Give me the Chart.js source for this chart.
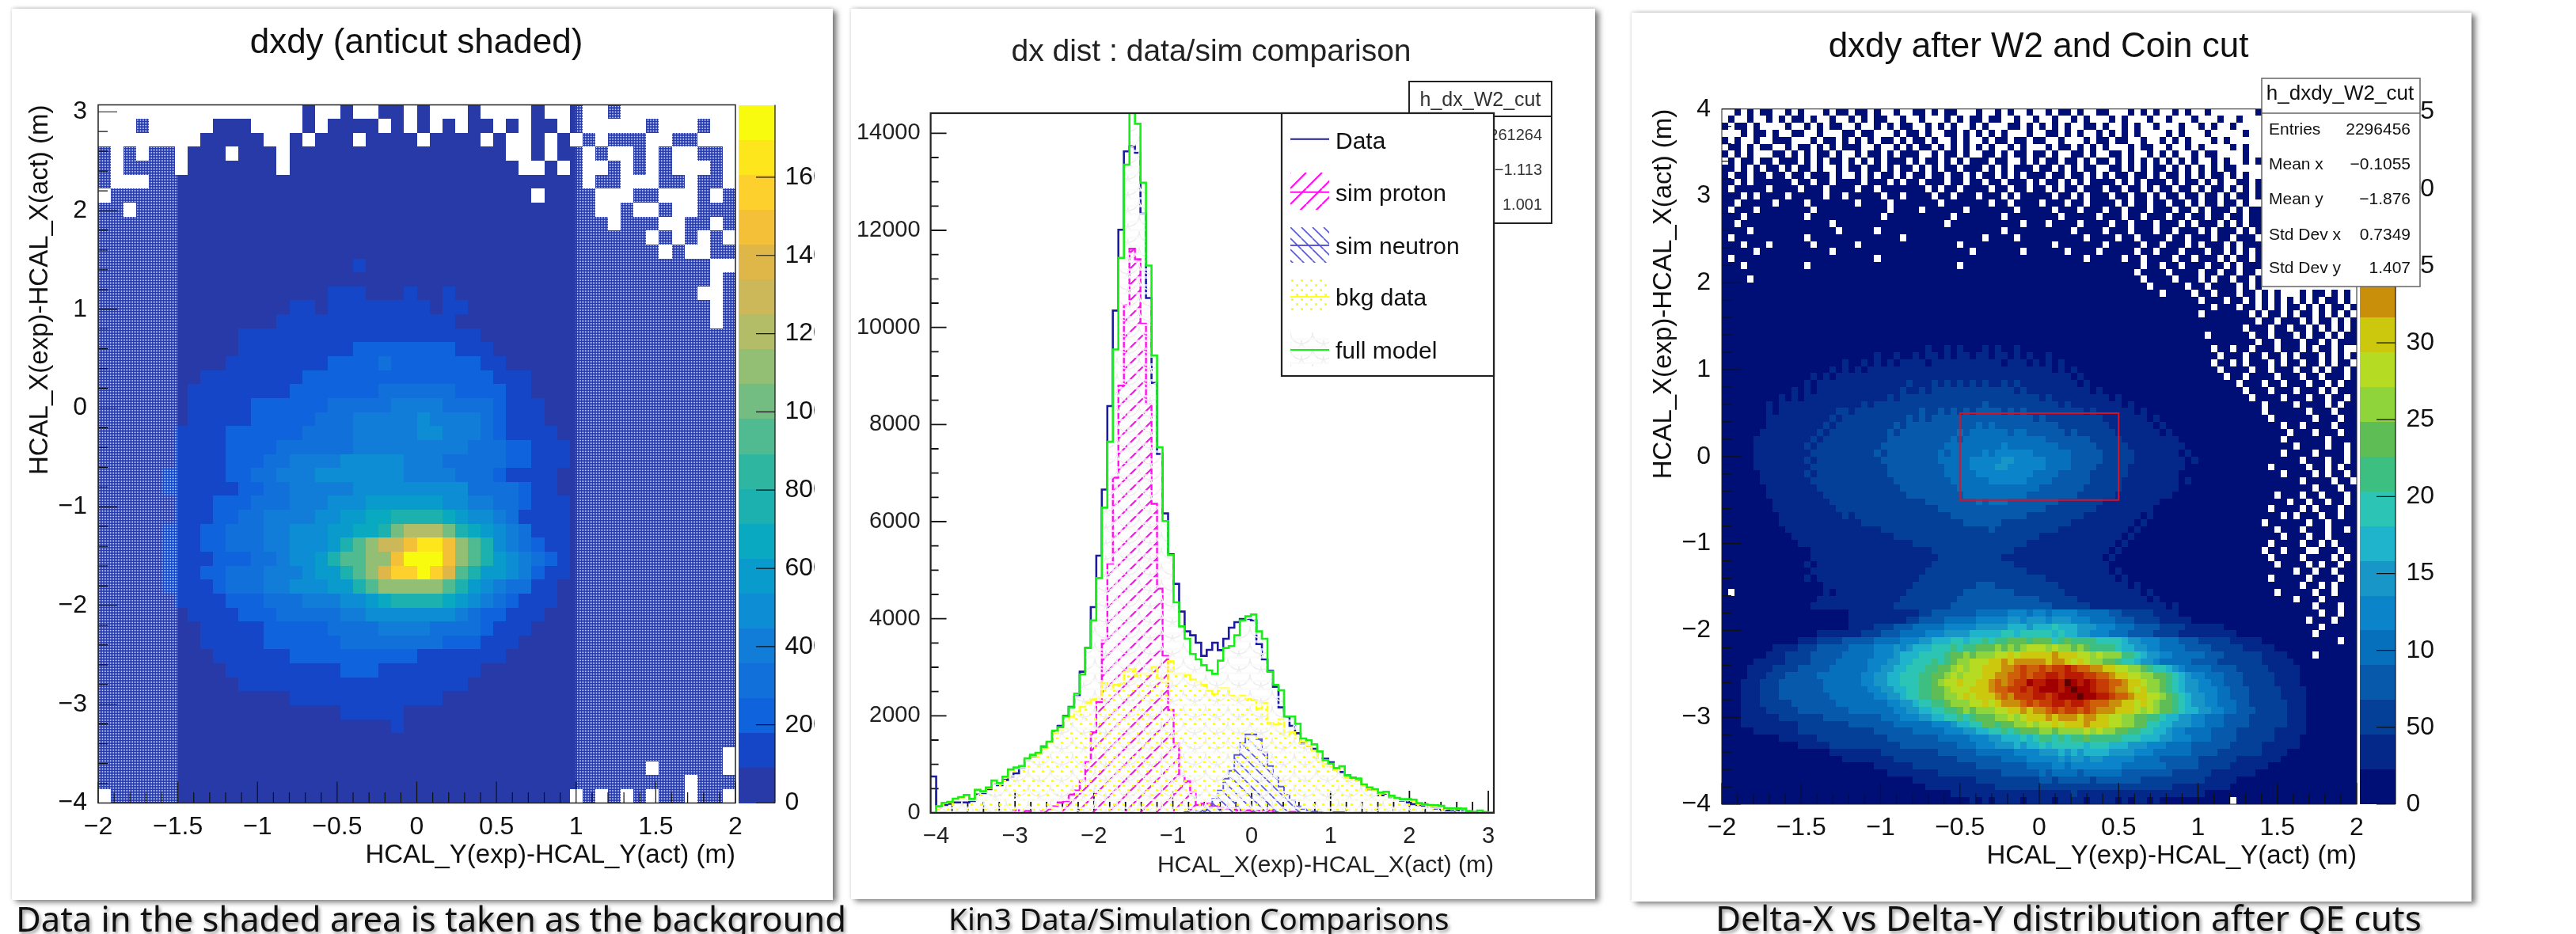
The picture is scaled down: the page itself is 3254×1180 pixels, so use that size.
<!DOCTYPE html>
<html>
<head>
<meta charset="utf-8">
<title>dxdy and dx comparisons</title>
<script src="https://cdn.jsdelivr.net/npm/chart.js@4/dist/chart.umd.min.js"></script>
<style>
  html, body { margin: 0; padding: 0; background: #fff; width: 3254px; height: 1180px; overflow: hidden; }
  .panel { position: absolute; background: #fff; box-shadow: 5px 3px 7px rgba(0,0,0,.5), 0 -1px 4px rgba(0,0,0,.15); }
  canvas { position: absolute; }
  .caption { position: absolute; white-space: nowrap; font-family: "Noto Sans", sans-serif; color: #111; text-shadow: 2px 3px 4px rgba(0,0,0,.4); }
</style>
</head>
<body>
<div class="panel" style="left:15px;top:11px;width:1037px;height:1126px"></div>
<div class="panel" style="left:1075px;top:11px;width:940px;height:1125px"></div>
<div class="panel" style="left:2061px;top:16px;width:1061px;height:1123px"></div>
<canvas id="c1" width="1006" height="1120" style="left:23px;top:12px;filter:blur(.6px)"></canvas>
<canvas id="c2" width="910" height="1122" style="left:1075px;top:12px;filter:blur(.7px)"></canvas>
<canvas id="c3" width="1002" height="1120" style="left:2074px;top:16px;filter:blur(.3px)"></canvas>
<div class="caption" style="left:20px;top:1130px;font-size:43.5px">Data in the shaded area is taken as the background</div>
<div class="caption" style="left:1198px;top:1134px;font-size:38.6px">Kin3 Data/Simulation Comparisons</div>
<div class="caption" style="left:2167px;top:1129px;font-size:44px">Delta-X vs Delta-Y distribution after QE cuts</div>
<script>
// ---- dx histogram, bins of 0.07 starting at -4.07
const dxBinStart = -4.07;
const dxBinWidth = 0.07;
const dataHist = [750,109,163,190,217,217,217,245,380,408,489,598,570,679,750,815,924,1087,1168,1223,1370,1440,1658,1793,1995,2185,2402,2908,3397,4239,5299,6660,8380,10347,12011,13626,13730,13600,12340,10607,8856,7393,6169,5326,4718,4147,3739,3658,3506,3234,3359,3506,3353,3587,3815,3930,3995,3995,3967,3478,3163,2924,2598,2174,1984,1793,1641,1424,1386,1320,1087,1114,1043,897,842,772,723,679,571,489,473,364,397,326,288,255,217,179,163,147,125,92,82,54,54,38,27,16,16,5,0,0];
const protonHist = [0,0,0,0,0,0,0,0,0,0,0,0,0,0,0,54,0,40,0,0,27,82,136,217,245,380,462,668,1060,1658,2283,3549,5136,6905,8802,10456,11620,11404,10076,8423,6366,4620,3234,2120,1424,761,652,435,163,190,190,136,109,92,92,54,43,54,43,40,27,54,15,10,0,20,10,0,0,12,0,0,0,15,15,0,0,0,0,15,0,0,0,0,0,0,0,0,0,0,0,0,0,0,0,0,0,0,0,0,0,0];
const neutronHist = [0,0,0,0,0,0,0,0,0,0,0,0,0,0,0,0,0,0,0,0,0,0,0,0,0,0,0,0,0,0,0,0,0,0,0,0,0,0,0,0,0,0,0,0,0,0,15,20,30,50,100,290,462,706,870,1196,1440,1620,1620,1522,1250,967,750,543,370,261,136,82,54,27,10,0,0,0,0,0,0,0,0,0,0,0,0,0,0,0,0,0,0,0,0,0,0,0,0,0,0,0];
const bkgHist = [0,130,200,220,285,320,360,280,470,435,515,655,600,730,880,920,950,1100,1170,1210,1330,1440,1650,1720,1900,1980,2080,2185,2272,2337,2380,2674,2554,2636,2652,2908,2962,2826,2870,2870,3016,2772,2701,3125,2870,2870,2853,2745,2707,2636,2527,2446,2565,2565,2413,2380,2413,2348,2321,2147,2266,1848,1821,1929,1576,1658,1576,1467,1386,1277,1087,1005,951,880,930,720,690,680,560,500,465,400,415,335,290,265,265,250,190,170,150,150,130,90,85,85,80,30,10,40,10,0];
const modelHist = [0,136,207,228,293,326,370,288,478,446,527,668,614,745,897,935,967,1125,1196,1239,1359,1467,1696,1766,1984,2174,2457,2853,3397,3967,4837,6288,7645,9546,11433,13353,14900,14195,12980,11275,9422,7530,6013,5310,4337,3842,3587,3272,3163,3043,2935,2864,3136,3397,3435,3658,3967,4049,4087,3739,3587,2908,2636,2527,1984,1984,1837,1533,1495,1413,1266,1087,1016,924,962,772,723,707,587,527,489,418,435,353,310,283,283,272,201,179,163,158,147,98,92,92,87,38,16,49,16,0];

// ---- palettes, one colour per contour level, lowest first
const birdPalette = ['#283aa8','#1546c8','#0f63dd','#1270da','#117dd8','#0d8dd4','#0a9bcd','#0aa9c2','#1cb0af','#2fb6a1','#50bb91','#74bd82','#93bf74','#b3bd68','#ccb859','#dfb748','#f3c038','#fed02e','#fde61c','#f9fb0e'];
const rainbowPalette = ['#000f75','#03288a','#043f98','#0659ab','#0770bc','#0c84c9','#1896c8','#1fb3cc','#2bc4b5','#3dbf82','#5ebd55','#8fd43a','#b5dc22','#ccc80e','#c98f0a','#cd6008','#c63c05','#b81a02','#a00000','#600000'];

// ---- colour bar ticks and the dx count ticks
const anticutZTicks = [0,200,400,600,800,1000,1200,1400,1600];
const qeZTicks = [0,50,100,150,200,250,300,350,400,450];
const dxCountTicks = [0,2000,4000,6000,8000,10000,12000,14000];

// ---- cell levels, top row first ('.' = empty bin, 0-9a-j = level)
const anticutRows = [
".......... ......0..0 ..00.0...0 ....0..0.. 0.........",
"...0.....0 00....0.00 00.0.0.0.0 0.0.00.0.. ...0...0..",
"........00 000..0.000 .0000.0000 .0..0.0.0. 000..00...",
"0.0.00.000 .000.00000 0000000000 00..0.00.0 ..0.0..00.",
"0.0000.000 0000.00000 0000000000 000..0.0.. 0.0.0...0.",
"0...000000 0000000000 0000000000 00000000.0 0...00.00.",
".000000000 0000000000 0000000000 0000.0000. ..00...0.0",
"00.0000000 0000000000 0000000000 000000000. .0..0..000",
"0000000000 0000000000 0000000000 0000000000 .000..00.0",
"0000000000 0000000000 0000000000 0000000000 000.0.0.0.",
"0000000000 0000000000 0000000000 0000000000 0000.0..00",
"0000000000 0000000000 1000000000 0000000000 00000000..",
"0000000000 0000000000 0000000000 0000000000 00000000.0",
"0000000000 0000000011 1000100100 0000000000 0000000..0",
"0000000000 0000011011 1111110110 0000000000 00000000.0",
"0000000000 0000111111 1111111100 0000000000 00000000.0",
"0000000000 0111111111 1111111111 0000000000 0000000000",
"0000000000 0111111111 2222222211 1000000000 0000000000",
"0000000000 1111111122 2232222222 1100000000 0000000000",
"0000000011 1111112222 2222222222 2111000000 0000000000",
"0000000111 1111122222 2233333322 2211000000 0000000000",
"0000000111 1122222233 3334444333 3211100000 0000000000",
"0000000111 1122222333 4444454444 3211100000 0000000000",
"0000001111 2222223333 4444455444 3211110000 0000000000",
"0000001111 2222333333 4444444443 3322111000 0000000000",
"0000001111 2223344445 5555444333 3322111000 0000000000",
"0000011111 2233444555 5555444433 3211110000 0000000000",
"0000011111 1223344444 5555555553 3332110000 0000000000",
"0000001112 2233344455 5666666554 4332111000 0000000000",
"0000001112 2334444556 6778888765 5431111000 0000000000",
"0000011122 3334455566 778bdddb87 6543111000 0000000000",
"0000011122 3334455568 aceegiigca 8543211000 0000000000",
"0000011112 223345568a accgjjjgca 8654321000 0000000000",
"0000011122 3334445668 acfhhjhfa8 6654211000 0000000000",
"0000011112 3334455566 8accccca86 5433110000 0000000000",
"0000001111 2223334445 5678888765 4321110000 0000000000",
"0000000111 1222333334 4555555543 2211100000 0000000000",
"0000000011 1112222233 3344443333 2111000000 0000000000",
"0000000011 1112222223 3333333222 1110000000 0000000000",
"0000000001 1111122222 2222211111 1100000000 0000000000",
"0000000000 1111111112 2211111111 0000000000 0000000000",
"0000000000 0111111111 1111111110 0000000000 0000000000",
"0000000000 0000011111 1111111000 0000000000 0000000000",
"0000000000 0000000001 1111000000 0000000000 0000000000",
"0000000000 0000000000 0001000000 0000000000 0000000000",
"0000000000 0000000000 0000000000 0000000000 0000000000",
"0000000000 0000000000 0000000000 0000000000 000000000.",
"0000000000 0000000000 0000000000 0000000000 000.00000.",
"0000000000 0000000000 0000000000 0000000000 000000.000",
".000000000 0000000000 0000000000 0000000.0. 0.0.00.00."
];

// ---- cell levels, coarser than the 200 bins of the original
const qeRows = [
"..0.0.00.. 0.0...0.00 .00.0..0.. 00.0.00... 0..0.0..0. .0.00.0..0 0...0.0.0. .0.0..0... ....0",
".0..0..0.0 .00.0..0.. 0.0.00..0. .0...0.0.0 0.00..0..0 ..0..0.0.. .0.0...0.. 0...0...0. .0...",
"0.00.0.... 0..0.0.00. .0..0.0.00 ..0.0.0..0 .0...00.0. 0.0.0..00. 0..0.0..0. ..0..0.0.. 0....",
"...0.00.0. .00..0...0 0.00...0.0 0.0..00.0. 0.0.0...0. .00.0.0..0 .0.0.0.... 0.0...0... ..0..",
"0.0..0..00 0...0.00.0 .0.0.00.0. 00.0..0.0. .0.00.00.0 0..0...0.0 0.00..0..0 .0.0...0.0 .....",
".00.0.00.. 0.00.0.0.0 00..0..0.0 .00.0.0.0. 0.0..0.0.. .0.00.0.0. 0...0.00.. 0..0.0.... 0.0..",
"0.0.0...00 .0.0.00.0. .0.00.0.00 0..0.00.0. .00.0.00.0 0.0..00.0. .00.0..0.0 .0..0.00.. ..0..",
".0.00.00.0 00.0.0.00. 0.0.0.000. 0.00.0.0.0 00.00..0.0 .00.00.0.0 0.0.0.0.0. 0.0.0..0.0 ..0.0",
"00.0.0.00. 0.00.0..0. 00.00.0.00 .0.0.00.00 0.0.0.000. 00.0.0.00. .00.0.0.00 .0.0.0.0.0 0....",
"0.00.00.00 .00.000.0. .0.0.00.0. 00.00.00.0 .00.0.0.00 0.00.00.0. 0.00.00.0. 00.0.0.00. 0.0..",
"00.0.00000 0.00.00.00 00.000.0.0 0.000.00.0 0.00.000.0 .00.0.0.00 00.0.0.000 .0.00.0.0. .00.0",
"0.00000.00 00.000.000 0.00.00000 00.0.00.00 00.00.00.0 0.0.00.000 .00.00.0.0 0.00.0.00. 0.0.0",
"000.0.0000 .00000.00. 00000.00.0 000.00.000 .000.0.000 00.00.0.00 0.00.00.0. 00.00.00.0 .00.0",
"00.00000.0 000.000000 0.0000.000 0000.00000 00.00.0000 .000.00.00 00.0.00.00 .00.0.00.0 0.0..",
"0.000.0000 0000.00000 000000.000 0.000000.0 000000.000 00.000.000 .00.000.00 0.00.0.000 .0.00",
"000.000000 000.000000 00000.0000 000000.000 0000.00000 000.00000. 000.00.000 .00.00.00. 00.00",
"00.0000000 0000000.00 0000000000 00000.0000 0000000.00 0.0000.000 0.00.000.0 00.0.000.0 .0.00",
"0000.00000 00000000.0 0000.00000 0000000000 0000.00000 00000.0000 .000.000.0 0.000.0.00 0.0.0",
"0.00000000 000.000000 00000000.0 0000000000 0.0000.000 0000000.00 00.00.0000 .00.000.00 .000.",
"000.000.00 0000.00000 0.00000000 0000000.00 0000000000 00.0000000 .00000.00. 000.0.000. 0.000",
"00000.0000 0000000.00 0000000000 000000000. 0000000.00 0000.0000. 00000.00.0 00.000.00. 0.0.0",
"0.00000000 0000000000 0000.00000 0000000000 0000000000 0000000.00 000.00.000 0.00.000.0 .00.0",
"000.000000 000.000000 0000000000 0000000.00 0000000000 0000000000 000000.00. 00.000.00. 0.000",
"0000000000 0000000000 0000000000 0000000000 0000000000 0000000000 00000.0000 .0000.00.0 0.00.",
"0000.00000 0000000000 0000000000 0000000000 0000000000 0000000000 000000.000 0.000.0.00 .00.0",
"0000000000 0000000000 0000000000 0000000000 0000000000 0000000000 0000000.00 000.00.000 0.0.0",
"0000000000 0000000000 0000000000 0000000000 0000000000 0000000000 000000000. 0000.00.00 0.00.0.0.. .0.00.0.0.",
"0000000000 0000000000 0000000000 0000000000 0000000000 0000000000 0000000000 00000.000. 00.0.0.0.0 .0.0.00.0.",
"0000000000 0000000000 0000000000 0000000000 0000000000 0000000000 0000000000 0000000.00 0.00.0.0.0 0.0.0.00.0",
"0000000000 0000000000 0000000000 0000000000 0000000000 0000000000 0000000000 00000.0000 000.0.00.0 .00.0.0.0.",
"0000000000 0000000000 0000000000 0000000000 0000000000 0000000000 0000000000 0000000000 0000.00.00 0.0.00.0.0",
"0000000000 0000000000 0000000000 0000000000 0000000000 0000000000 0000000000 0000000000 00.000.00. 00.0.0.0.0",
"0000000000 0000000000 0000000000 0000000000 0000000000 0000000000 0000000000 000000.000 000.00.000 .0.00.0.00",
"0000000000 0000000000 0000000000 0000000000 0000000000 0000000000 0000000000 0000000000 0000.00.00 0.00.0.000",
"0000000000 0000000000 0000000000 0010010100 0101001000 0000000000 0000000000 0000000.00 .00.000.00 0.0.00.0..",
"0000000000 0000000000 0000100100 1011010110 1101101010 0100000000 0000000000 00000000.0 00.00.00.0 .000.0.0.0",
"0000000000 0000000001 0010101011 1101111111 1111011101 0101000000 0000000000 0000000.00 .0.000.0.0 0.00.0.00.",
"0000000000 0000000101 0101111111 1111111111 1111111111 1101010000 0000000000 00000000.0 000.00.000 .00.0.00.0",
"0000000000 0000101011 1111111111 1111111111 1111111111 1111101000 0000000000 000000000. 00.0000.00 0.00.000.0",
"0000000000 0001011111 1111111112 1112121212 1211212111 1111110100 0000000000 0000000000 0.000.00.0 00.00.0.00",
"0000000000 0101011111 1111111121 1212222222 2222221211 1111111101 0000000000 0000000000 00.000.000 .000.0.000",
"0000000001 0101111111 1111112122 2222222222 2222222222 1211111111 1010000000 0000000000 000.0000.0 00.00.00.0",
"0000000101 1111111111 1121222222 2222222222 2322222222 2221211111 1110100000 0000000000 00000.0000 .0000.0.00",
"0000000101 1111111122 1222222222 2322323232 3333232322 2222222121 1111101000 0000000000 00000.0000 00.000.000",
"0000000111 1111111212 2222222223 2323333333 3333333332 3222222222 1111111010 0000000000 000000.000 000.000.00",
"0000000111 1111112122 2222222323 3333333333 4343333333 3332222222 2111111101 0000000000 00000000.0 0.0000.000",
"0000001111 1111121222 2222223233 3333333434 4444434433 3333232222 2211111110 1000000000 000000000. 000.000.00",
"0000011111 1111212222 2222223333 3333334344 4444444444 4333333322 2221111111 1100000000 00000000.0 00000.0000",
"0000011111 1112122222 2222233333 3333344444 4444544444 4443333332 2222111111 1110000000 0000000000 .0000.00.0",
"0000011111 1111222222 2222323333 3333434444 4545555554 4444433333 2222211111 1101000000 00000000.0 000.0000.0",
"0000011111 1112122222 2222233333 3333444445 5555665555 5444433333 2222211111 1110100000 0000000000 0.000.00.0",
"0000011111 1111222222 2222223333 3333344445 5556655555 5444433332 2222111111 1110000000 000000.000 00.00.0.00",
"0000001111 1112122222 2222223333 3333344444 5555555554 4443333322 2222111111 1100000000 00000000.0 000.0.00.0",
"0000001111 1111222222 2222222333 3333334444 4455555544 4433333322 2221111111 1101000000 0000000000 0.0000.00.",
"0000000111 1111122222 2222222233 3333333444 4444444444 3333333222 2221111111 1100000000 0000000000 000.000.00",
"0000000111 1111112222 2222222223 3333333344 4444444433 3333332222 2211111111 1000000000 0000000.00 0.00.000.0",
"0000000011 1111111222 2222222222 2233333333 4344433333 3332222222 1111111110 0000000000 000000000. 00.00.00.0",
"0000000011 1111111122 2222222222 2222333333 3333333333 3222222221 1111111100 0000000000 000000.000 0.0.000.00",
"0000000001 1111111112 1222222222 2222223333 3333333322 2222222111 1111110100 0000000000 00000000.0 .000.00.00",
"0000000001 1111111111 1122222222 2222222233 3333222222 2222211111 1111101000 0000000000 00000.0000 00.00.0000",
"0000000000 1111111111 1111122222 2222222222 2232222222 2221111111 1111010000 0000000000 0000000.00 0.000.00.0",
"0000000000 0111111111 1111111222 2222222222 2222222222 1111111111 1110100000 0000000000 00000000.0 00.00.0000",
"0000000000 0011111111 1111111111 2222222222 2222222211 1111111111 1101000000 0000000000 000000.000 0.00.0.000",
"0000000000 0000111111 1111111111 1112222222 2222221111 1111111111 1010000000 0000000000 00000.00.0 00..000.00",
"0000000000 0000111111 1111111111 1111222222 2222111111 1111111111 0100000000 0000000000 000000.000 0.0000.0.0",
"0000000000 0001011111 1111111111 1112222222 2222221111 1111111111 1000000000 0000000000 0000000.00 00.0.00.00",
"0000000000 0000111111 1111111111 1122222222 2222222211 1111111111 1010000000 0000000000 0000000000 .00.00.000",
"0000000000 0001011111 1111111111 1222222222 2222222222 2111111111 1101000000 0000000000 000000.000 00.0000.00",
"0000000000 0000001111 1111111111 2222222222 3332222222 2221111111 1111010000 0000000000 0000000000 0.00.0.000",
"0.00000000 0000001011 1111111112 2222222233 3333332222 2222111111 1111110100 0000000000 0000000.00 000.00.000",
"0000000000 0000011111 1111111122 2222222333 3333333333 2222221111 1111111010 0000000000 0000000000 .000.00000",
"0000000000 0000111111 1111111222 2222223333 3333333333 3322222211 1111111111 0100000000 0000000000 000.000.00",
"0000000000 0000000000 1111111111 1223333333 4444455545 5455554444 4332222211 1100000000 0000000000 0000.00.00",
"0000000000 0000000000 1111111112 2333344444 5555566566 6566655544 4433322221 1111000000 0000000000 00.000.000",
"0000000000 0000000000 1111222333 4444455555 6666677767 7787776665 5544433332 2221111110 0000000000 0000.00000",
"0000000000 0000011111 1122233344 4455566667 7777887888 8878776655 5444333322 2211111111 1000000000 000.000000",
"0000000000 0011122223 3333444455 5667778878 89899aaa9a aa89a99998 8887665554 4433322222 1111100000 0000000.00",
"0000000011 1122233333 4444555656 7778889899 aaabababcc cbcbbaba99 9987766554 4443333222 2211111000 0000000000",
"0000000111 2222333334 4444555677 788889aaba bbbccdcddd ddedddccbc bbb9987665 5444443332 2222211110 000.000000",
"0000011111 2222333344 4445556677 888989abbc ccddedeeee edeedcdcbb aa98876654 4444333322 2222211111 0000000000",
"0000111122 2233333444 4445566778 8899aabcbc cdddeefgff gfgghgffee ddccbba988 7654444333 3222221111 1000000000",
"0000111222 3333344444 4455667788 899aabcbcc cddeeffgfg ghhghhhggf feddccbbaa 9876554443 3322222111 1000000000",
"0001112223 3333334444 4455667788 899abccdcc ddefefggih hiihjihihg gffeddcbba 9876655443 3322222111 1000000000",
"0001112223 3333334444 4445566778 899aabcccd ddeffgghgh iiihijiihg gfeedcdbba 9876655544 3332222211 1100000000",
"0001112223 3333333444 4444556678 899aabbcdc dddefegggh hghiiijiih hgffeddccb a987665544 3332222211 1100000000",
"0001112222 2333333344 4444445566 78899abbbc cdcdeeefgf gghhghhgff feeddcdcba a987665544 4332222221 1100000000",
"0001111222 2233333333 4444444556 6778899aba bbbccddede efgfggfgfe eedddcbcba a987766554 4333222221 1100000000",
"0001111112 2222223333 3333344455 5667788989 aaabbcbcdd dedeeedeed dccbbaa998 7766554443 3332222221 1100000000",
"0001111111 1122222222 3333333444 4445556778 8aa9aabbcb ccdcdddedd dccbbaa887 7666554443 3332222221 1100000000",
"0000011111 1122222222 2222333333 4444455566 7788989aaa bbabbbbcbc bbaa998877 6554444333 3222222111 1100000000",
"0000000001 1111122222 2222223333 3333444445 5566777878 9989899a99 9998887776 6555444333 3222222111 1000000000",
"0000000000 0011111222 2222222233 3333333444 5556667677 8788888788 8777666555 4444333333 2222211111 1000000000",
"0000000000 0000000111 1111122222 2222333333 4444445555 6667676777 7666655544 4444333322 2222211110 0000000000",
"0000000000 0000000001 1111111222 2222222333 3333444455 5556566566 5555544443 3333322222 2111111100 0000000000",
"0000000000 0000000000 0000111111 2222222222 3333333344 4455455555 5554444444 3333322222 1111110000 0000000000",
"0000000000 0000000000 0000001111 1111222222 2222333333 4344443444 4443333333 3222222111 1111000000 0000000000",
"0000000000 0000000000 0000000000 1111111111 2222222222 3323333323 3333332222 2222221111 1000000000 0000000000",
"0000000000 0000000000 0000000000 0011111111 1112222222 2222222222 2222222222 2111111111 0000000000 0000000000",
"0000000000 0000000000 0000000000 0000001111 1111111111 1111121111 1111111111 1111110000 0000000000 0000000000",
"0000000000 0000000000 0000000000 0000000001 0101111011 1101111011 1101011010 0000000000 .000000000 0000000000"
];

const anticutShade = [[-2, -1.5], [1, 2]];
const qeCutBox = { x0: -0.5, x1: 0.5, y0: -0.5, y1: 0.5 };
const legendNames = ['Data', 'sim proton', 'sim neutron', 'bkg data', 'full model'];
const dxStats = [['261264', 171], ['\u22121.113', 215], ['1.001', 259]];
const qeStats = [['Entries', '2296456'], ['Mean x', '\u22120.1055'], ['Mean y', '\u22121.876'], ['Std Dev x', '0.7349'], ['Std Dev y', '1.407']];

const FONT = '"Liberation Sans", Arial, sans-serif';
const minusLabel = (v) => String(v).replace('-', '\u2212');
const steps = (from, to, step) => {
  const out = [];
  for (let i = 0; from + i * step <= to + 1e-9; i++) out.push(+(from + i * step).toFixed(4));
  return out;
};

// turn level rows into scatter points, cell centres in axis units
function cellsFromRows(rows, cols, xMin, xMax, yMin, yMax) {
  const dx = (xMax - xMin) / cols, dy = (yMax - yMin) / rows.length;
  const pts = [];
  rows.forEach((raw, r) => {
    const line = raw.replace(/ /g, '').padEnd(cols, '.');
    for (let c = 0; c < cols; c++) {
      if (line[c] === '.') continue;
      pts.push({ x: xMin + (c + 0.5) * dx, y: yMax - (r + 0.5) * dy, v: parseInt(line[c], 36) });
    }
  });
  return { pts, dx, dy };
}

function tile(w, h, paint) {
  const cv = document.createElement('canvas');
  cv.width = w; cv.height = h;
  paint(cv.getContext('2d'));
  return document.createElement('canvas').getContext('2d').createPattern(cv, 'repeat');
}
function diag(col, size, down, lw) {
  return tile(size, size, (g) => {
    g.strokeStyle = col; g.lineWidth = lw;
    g.beginPath();
    for (let k = -size; k <= size; k += size) {
      if (down) { g.moveTo(k, 0); g.lineTo(k + size, size); }
      else { g.moveTo(k, size); g.lineTo(k + size, 0); }
    }
    g.stroke();
  });
}
const protonFill = diag('#ff10ee', 20, false, 2.2);
const neutronFill = diag('#5a5ad8', 14, true, 1.6);
const bkgFill = tile(12, 12, (g) => {
  g.fillStyle = '#ffff10';
  g.fillRect(1, 1, 3, 3); g.fillRect(7, 7, 3, 3);
});
const modelFill = tile(28, 20, (g) => {
  g.strokeStyle = '#eeeeee'; g.lineWidth = 1.6;
  g.beginPath(); g.arc(14, 0, 14, 0, Math.PI); g.stroke();
  g.beginPath(); g.arc(0, 10, 14, 0, Math.PI / 2); g.stroke();
  g.beginPath(); g.arc(28, 10, 14, Math.PI / 2, Math.PI); g.stroke();
  g.fillStyle = 'rgba(250,250,250,.78)';
  g.fillRect(0, 7, 28, 3); g.fillRect(0, 17, 28, 3);
});
const shadeFill = tile(4, 4, (g) => {
  g.fillStyle = 'rgba(255,255,255,.8)';
  g.fillRect(0, 0, 1, 1); g.fillRect(2, 2, 1, 1); g.fillRect(2, 0, 1, 1); g.fillRect(0, 2, 1, 1);
});

function drawTicks(chart, cfg) {
  const { ctx, chartArea: a, scales } = chart;
  ctx.save();
  ctx.strokeStyle = '#111';
  ctx.lineWidth = cfg.tickWidth;
  ctx.beginPath();
  cfg.xMajor.forEach((v) => { const p = scales.x.getPixelForValue(v); ctx.moveTo(p, a.bottom); ctx.lineTo(p, a.bottom - cfg.xLen); });
  cfg.xMinor.forEach((v) => { const p = scales.x.getPixelForValue(v); ctx.moveTo(p, a.bottom); ctx.lineTo(p, a.bottom - cfg.xLen / 2); });
  cfg.yMajor.forEach((v) => { const p = scales.y.getPixelForValue(v); ctx.moveTo(a.left, p); ctx.lineTo(a.left + cfg.yLen, p); });
  cfg.yMinor.forEach((v) => { const p = scales.y.getPixelForValue(v); ctx.moveTo(a.left, p); ctx.lineTo(a.left + cfg.yLen / 2, p); });
  ctx.stroke();
  ctx.restore();
}

// draws map cells, colour bar and root-style frame around what the library laid out
function mapDecor(cfg) {
  return {
    id: 'mapDecor',
    beforeDatasetsDraw(chart) {
      const { ctx, scales: { x, y } } = chart;
      ctx.save();
      chart.data.datasets[0].data.forEach((p) => {
        const x0 = Math.round(x.getPixelForValue(p.x - cfg.dx / 2));
        const x1 = Math.round(x.getPixelForValue(p.x + cfg.dx / 2));
        const y0 = Math.round(y.getPixelForValue(p.y + cfg.dy / 2));
        const y1 = Math.round(y.getPixelForValue(p.y - cfg.dy / 2));
        ctx.fillStyle = cfg.palette[p.v];
        ctx.fillRect(x0, y0, x1 - x0, y1 - y0);
      });
      ctx.restore();
    },
    afterDatasetsDraw(chart) {
      const { ctx, chartArea: a, scales: { x, y, z } } = chart;
      ctx.save();
      if (cfg.shade) {
        ctx.fillStyle = shadeFill;
        cfg.shade.forEach(([lo, hi]) => {
          const l = x.getPixelForValue(lo), r = x.getPixelForValue(hi);
          ctx.fillRect(l, a.top, r - l, a.bottom - a.top);
        });
      }
      // colour bar, one band per contour level
      const n = cfg.palette.length;
      const barL = a.right + cfg.barGap, barR = barL + cfg.barWidth;
      cfg.palette.forEach((col, i) => {
        const y0 = Math.round(z.getPixelForValue((i + 1) * z.max / n));
        const y1 = Math.round(z.getPixelForValue(i * z.max / n));
        ctx.fillStyle = col;
        ctx.fillRect(barL, y0, cfg.barWidth, y1 - y0);
      });
      ctx.strokeStyle = '#111';
      ctx.lineWidth = 1.2;
      ctx.beginPath();
      cfg.zTicks.forEach((v) => {
        const p = z.getPixelForValue(v);
        ctx.moveTo(barR, p); ctx.lineTo(barR - 24, p);
      });
      ctx.moveTo(barR, a.top); ctx.lineTo(barR, a.bottom);
      ctx.stroke();
      drawTicks(chart, cfg);
      ctx.strokeStyle = '#222';
      ctx.lineWidth = cfg.frameWidth;
      ctx.strokeRect(a.left, a.top, a.right - a.left, a.bottom - a.top);
      if (cfg.box) {
        const b = cfg.box;
        const bx = x.getPixelForValue(b.x0), by = y.getPixelForValue(b.y1);
        ctx.strokeStyle = '#e0101f';
        ctx.lineWidth = 2;
        ctx.strokeRect(bx, by, x.getPixelForValue(b.x1) - bx, y.getPixelForValue(b.y0) - by);
      }
      if (cfg.stats) cfg.stats(ctx);
      ctx.restore();
    }
  };
}

function mapChart(id, title, rows, cols, opts) {
  const grid = cellsFromRows(rows, cols, -2, 2, -4, opts.yMax);
  const cfg = Object.assign({
    dx: grid.dx, dy: grid.dy,
    xMajor: steps(-2, 2, 0.5), xMinor: steps(-2, 2, 0.1),
    yMajor: steps(-4, opts.yMax, 1), yMinor: steps(-4, opts.yMax, 0.2),
    xLen: 27, yLen: 24, tickWidth: 1.2, barGap: 4
  }, opts);
  return new Chart(document.getElementById(id), {
    type: 'scatter',
    data: { datasets: [{ label: title, data: grid.pts, pointRadius: 0, showLine: false }] },
    plugins: [mapDecor(cfg)],
    options: {
      responsive: false, animation: false, events: [],
      layout: { padding: 0 },
      plugins: {
        legend: { display: false }, tooltip: { enabled: false },
        title: { display: true, text: title, color: '#111', font: { family: FONT, size: 44, weight: 'normal' }, padding: opts.titlePad }
      },
      scales: {
        x: {
          type: 'linear', min: -2, max: 2,
          afterFit: (s) => { s.height = opts.xHeight; },
          grid: { display: false }, border: { display: false },
          ticks: { stepSize: 0.5, autoSkip: false, maxRotation: 0, includeBounds: false, padding: 3, color: '#111', font: { family: FONT, size: 32 }, callback: minusLabel },
          title: { display: true, text: 'HCAL_Y(exp)-HCAL_Y(act) (m)', align: 'end', color: '#111', font: { family: FONT, size: 33 }, padding: { top: 0, bottom: opts.xTitleBottom } }
        },
        y: {
          type: 'linear', min: -4, max: opts.yMax,
          afterFit: (s) => { s.width = 101; },
          grid: { display: false }, border: { display: false },
          ticks: { stepSize: 1, autoSkip: false, includeBounds: false, padding: 6, color: '#111', font: { family: FONT, size: 32 }, callback: minusLabel },
          title: { display: true, text: 'HCAL_X(exp)-HCAL_X(act) (m)', align: 'end', color: '#111', font: { family: FONT, size: 33 }, padding: { top: 8, bottom: 0 } }
        },
        z: {
          type: 'linear', axis: 'y', position: 'right', min: 0, max: opts.zMax,
          afterFit: (s) => { s.width = opts.zWidth; },
          afterBuildTicks: (s) => { s.ticks = opts.zTicks.map((value) => ({ value })); },
          grid: { display: false }, border: { display: false },
          ticks: { autoSkip: false, padding: 54.5, color: '#111', font: { family: FONT, size: 32 }, callback: (v) => String(v) }
        }
      }
    }
  });
}

mapChart('c1', 'dxdy (anticut shaded)', anticutRows, 50, {
  yMax: 3.07, zMax: 1785, zTicks: anticutZTicks, palette: birdPalette, shade: anticutShade,
  barWidth: 46, frameWidth: 1.5, xHeight: 117.5, zWidth: 100, xTitleBottom: 31,
  titlePad: { top: 16, bottom: 51.7 }
});

mapChart('c3', 'dxdy after W2 and Coin cut', qeRows, 100, {
  yMax: 4, zMax: 452, zTicks: qeZTicks, palette: rainbowPalette, box: qeCutBox,
  barWidth: 45, frameWidth: 1, xHeight: 120, zWidth: 99, xTitleBottom: 34,
  titlePad: { top: 17.6, bottom: 51.3 },
  stats(ctx) {
    // canvas sits at 2074,16
    const ox = -2074, oy = -16;
    ctx.fillStyle = '#fff';
    ctx.fillRect(2857 + ox, 99 + oy, 200, 263);
    ctx.strokeStyle = '#666';
    ctx.lineWidth = 1.5;
    ctx.strokeRect(2857 + ox, 99 + oy, 200, 263);
    ctx.beginPath(); ctx.moveTo(2857 + ox, 143 + oy); ctx.lineTo(3057 + ox, 143 + oy); ctx.stroke();
    ctx.fillStyle = '#111';
    ctx.textBaseline = 'middle';
    ctx.textAlign = 'center';
    ctx.font = '26px ' + FONT;
    ctx.fillText('h_dxdy_W2_cut', 2956 + ox, 119 + oy);
    ctx.font = '21px ' + FONT;
    const ys = [164, 208, 252, 297, 339];
    qeStats.forEach(([k, v], i) => {
      ctx.textAlign = 'left'; ctx.fillText(k, 2866 + ox, ys[i] + oy);
      ctx.textAlign = 'right'; ctx.fillText(v, 3045 + ox, ys[i] + oy);
    });
  }
});

// ---- middle panel
const histPoints = (vals) => {
  const pts = vals.map((v, i) => ({ x: dxBinStart + i * dxBinWidth, y: v }));
  pts.push({ x: dxBinStart + vals.length * dxBinWidth, y: 0 });
  return pts;
};
const histSet = (label, vals, col, fillPat, order, lw) => ({
  label, data: histPoints(vals), borderColor: col, borderWidth: lw,
  backgroundColor: fillPat || 'rgba(0,0,0,0)', fill: fillPat ? 'origin' : false,
  showLine: true, stepped: 'before', pointRadius: 0, order
});

const dxTicks = {
  xMajor: steps(-4, 3, 1), xMinor: steps(-4, 3, 0.2),
  yMajor: dxCountTicks, yMinor: steps(0, 14000, 500),
  xLen: 28, yLen: 20, tickWidth: 1.8
};
// legend swatch rows, abs page y; the canvas sits at 1075,12
const legendRows = [
  { line: 175.7, text: 180, top: 0, h: 0 },
  { line: 242.7, text: 246, top: 218, h: 47 },
  { line: 310, text: 313, top: 287, h: 45 },
  { line: 375, text: 378, top: 352, h: 43 },
  { line: 442, text: 445, top: 420, h: 43 }
];
const dxDecor = {
  id: 'dxDecor',
  beforeDatasetsDraw(chart) { drawTicks(chart, dxTicks); },
  afterDatasetsDraw(chart) {
    const { ctx, chartArea: a } = chart;
    const ox = -1075, oy = -12;
    ctx.save();
    // stats box comes first, the legend overlaps it
    ctx.fillStyle = '#fff';
    ctx.fillRect(1780 + ox, 103 + oy, 180, 179);
    ctx.strokeStyle = '#222';
    ctx.lineWidth = 2;
    ctx.strokeRect(1780 + ox, 103 + oy, 180, 179);
    ctx.beginPath(); ctx.moveTo(1780 + ox, 147 + oy); ctx.lineTo(1960 + ox, 147 + oy); ctx.stroke();
    ctx.fillStyle = '#333';
    ctx.textBaseline = 'middle';
    ctx.textAlign = 'center';
    ctx.font = '25px ' + FONT;
    ctx.fillText('h_dx_W2_cut', 1870 + ox, 127 + oy);
    ctx.textAlign = 'right';
    ctx.font = '20px ' + FONT;
    dxStats.forEach(([v, y]) => ctx.fillText(v, 1948 + ox, y + oy));
    // frame
    ctx.strokeStyle = '#222';
    ctx.lineWidth = 2.2;
    ctx.strokeRect(a.left, a.top, a.right - a.left, a.bottom - a.top);
    // legend
    const lx = 1619 + ox, ly = 143 + oy;
    ctx.fillStyle = '#fff';
    ctx.fillRect(lx, ly, 268, 332);
    ctx.strokeRect(lx, ly, 268, 332);
    chart.data.datasets.forEach((ds, i) => {
      const row = legendRows[i];
      if (row.h) {
        ctx.save();
        ctx.translate(1630 + ox, row.top + oy);
        ctx.fillStyle = ds.backgroundColor;
        ctx.fillRect(0, 0, 49, row.h);
        ctx.restore();
      }
      ctx.strokeStyle = ds.borderColor;
      ctx.lineWidth = 2;
      ctx.beginPath();
      ctx.moveTo(1630 + ox, row.line + oy);
      ctx.lineTo(1679 + ox, row.line + oy);
      ctx.stroke();
      ctx.fillStyle = '#111';
      ctx.textAlign = 'left';
      ctx.font = '30px ' + FONT;
      ctx.fillText(ds.label, 1687 + ox, row.text + oy);
    });
    ctx.restore();
  }
};

new Chart(document.getElementById('c2'), {
  type: 'scatter',
  data: {
    datasets: [
      histSet(legendNames[0], dataHist, '#1c1ca0', null, 5, 2.6),
      histSet(legendNames[1], protonHist, '#ff10ee', protonFill, 4, 2.4),
      histSet(legendNames[2], neutronHist, '#5a5ad8', neutronFill, 3, 2),
      histSet(legendNames[3], bkgHist, '#ffff20', bkgFill, 2, 2.6),
      histSet(legendNames[4], modelHist, '#16f016', modelFill, 1, 2.6)
    ]
  },
  plugins: [dxDecor],
  options: {
    responsive: false, animation: false, events: [],
    layout: { padding: 0 },
    plugins: {
      legend: { display: false }, tooltip: { enabled: false },
      title: { display: true, text: 'dx dist : data/sim comparison', color: '#222', font: { family: FONT, size: 39, weight: 'normal' }, padding: { top: 30.6, bottom: 53.6 } }
    },
    scales: {
      x: {
        type: 'linear', min: -4.07, max: 3.07,
        afterFit: (s) => { s.height = 107; },
        grid: { display: false }, border: { display: false },
        ticks: { stepSize: 1, autoSkip: false, maxRotation: 0, includeBounds: false, padding: 5, color: '#222', font: { family: FONT, size: 29 }, callback: minusLabel },
        title: { display: true, text: 'HCAL_X(exp)-HCAL_X(act) (m)', align: 'end', color: '#222', font: { family: FONT, size: 30 }, padding: { top: 0, bottom: 22 } }
      },
      y: {
        type: 'linear', min: 0, max: 14413,
        afterFit: (s) => { s.width = 100.6; },
        afterBuildTicks: (s) => { s.ticks = dxCountTicks.map((value) => ({ value })); },
        grid: { display: false }, border: { display: false },
        ticks: { autoSkip: false, padding: 5, color: '#222', font: { family: FONT, size: 29 }, callback: (v) => String(v) }
      },
      // empty right axis keeps the plot clear of the stats box without moving the title
      spare: {
        type: 'linear', axis: 'y', position: 'right',
        afterFit: (s) => { s.width = 98; },
        grid: { display: false }, border: { display: false },
        ticks: { display: false }
      }
    }
  }
});
</script>
</body>
</html>
